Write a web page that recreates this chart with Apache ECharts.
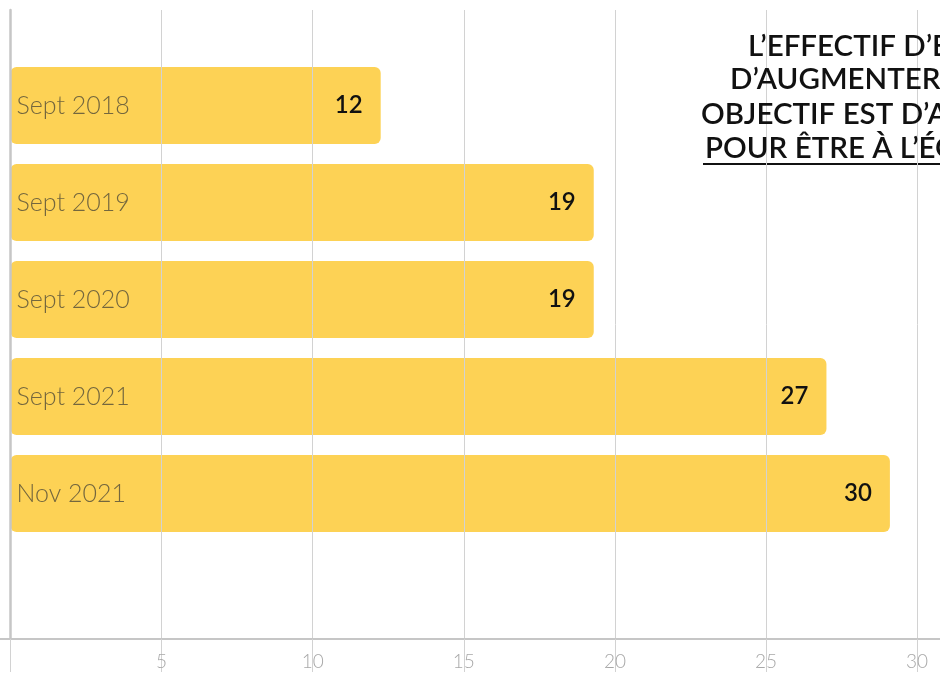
<!DOCTYPE html>
<html>
<head>
<meta charset="utf-8">
<script src="https://cdn.jsdelivr.net/npm/echarts@6/dist/echarts.min.js"></script>
<style>html,body{margin:0;padding:0;background:#fff;}#c{width:940px;height:675px;}</style>
</head>
<body>
<div id="c"></div>
<script>
// ---- data ----
var categories = ['Sept 2018', 'Sept 2019', 'Sept 2020', 'Sept 2021', 'Nov 2021'];
var barValues = [12.25, 19.3, 19.3, 27.0, 29.1];
var valueLabels = ['12', '19', '19', '27', '30'];
var tickValues = [5, 10, 15, 20, 25, 30];
var titleLines = [
  'L\u2019EFFECTIF D\u2019ENSEIGNANTES A PERMIS',
  'D\u2019AUGMENTER DE 150 %. NOTRE',
  'OBJECTIF EST D\u2019ATTEINDRE 40',
  'POUR \u00CATRE \u00C0 L\u2019\u00C9GALIT\u00C9'
];

var chart = echarts.init(document.getElementById('c'), null, {renderer: 'canvas'});
var FONT = 'Lato, "Open Sans", sans-serif';
var GRID_LEFT = 10.5, GRID_WIDTH = 1057.7;
var titleLefts = [748, 730, 701, 705];
var titleTops = [31, 64, 99, 133];

var option = {
  backgroundColor: '#ffffff',
  animation: false,
  title: titleLines.map(function (t, i) {
    return {
      text: t, left: titleLefts[i], top: titleTops[i], padding: 0,
      textStyle: {fontFamily: FONT, fontSize: 29.5, fontWeight: 600, color: '#111111'}
    };
  }),
  graphic: [
    {type: 'line', shape: {x1: 703, y1: 164, x2: 940, y2: 164}, style: {stroke: '#111111', lineWidth: 2}},
    {type: 'line', shape: {x1: 0, y1: 639, x2: 11, y2: 639}, style: {stroke: '#c6c6c6', lineWidth: 2}}
  ],
  grid: [
    {left: GRID_LEFT, width: GRID_WIDTH, top: 10, bottom: 36, containLabel: false, outerBoundsMode: 'none'},
    {left: GRID_LEFT, width: GRID_WIDTH, top: 57, bottom: 36, containLabel: false, outerBoundsMode: 'none'}
  ],
  xAxis: [
    {
      gridIndex: 0, type: 'value', min: 0, max: 35, interval: 5, z: 5,
      axisLine: {show: true, lineStyle: {color: '#c6c6c6', width: 2}},
      axisTick: {show: true, length: 33, inside: false, lineStyle: {color: '#d2d2d2', width: 1}},
      splitLine: {show: true, lineStyle: {color: '#d2d2d2', width: 1}},
      axisLabel: {
        show: true, margin: 13, fontFamily: FONT, fontSize: 19, fontWeight: 300, color: '#a8a8a8',
        formatter: function (v) { return tickValues.indexOf(v) >= 0 ? String(v) : ''; }
      }
    },
    {
      gridIndex: 1, type: 'value', min: 0, max: 35, interval: 5, show: false,
      splitLine: {show: false}
    }
  ],
  yAxis: [
    {
      gridIndex: 0, type: 'value', z: 5,
      axisLine: {show: true, lineStyle: {color: '#c6c6c6', width: 2.5}},
      axisTick: {show: false}, axisLabel: {show: false}, splitLine: {show: false}
    },
    {
      gridIndex: 1, type: 'category', inverse: true, z: 10,
      data: categories.concat(['']),
      axisLine: {show: false}, axisTick: {show: false}, splitLine: {show: false},
      axisLabel: {
        show: true, inside: true, margin: 6, fontFamily: FONT, fontSize: 25, fontWeight: 300, color: '#74673e'
      }
    }
  ],
  series: [{
    type: 'bar', xAxisIndex: 1, yAxisIndex: 1,
    data: barValues, barWidth: 77, z: 2,
    itemStyle: {color: '#fdd255', borderRadius: 6},
    label: {
      show: true, position: 'insideRight', distance: 18,
      fontFamily: FONT, fontSize: 24, fontWeight: 600, color: '#111111',
      formatter: function (p) { return valueLabels[p.dataIndex]; }
    }
  }]
};
chart.setOption(option);
</script>
</body>
</html>
